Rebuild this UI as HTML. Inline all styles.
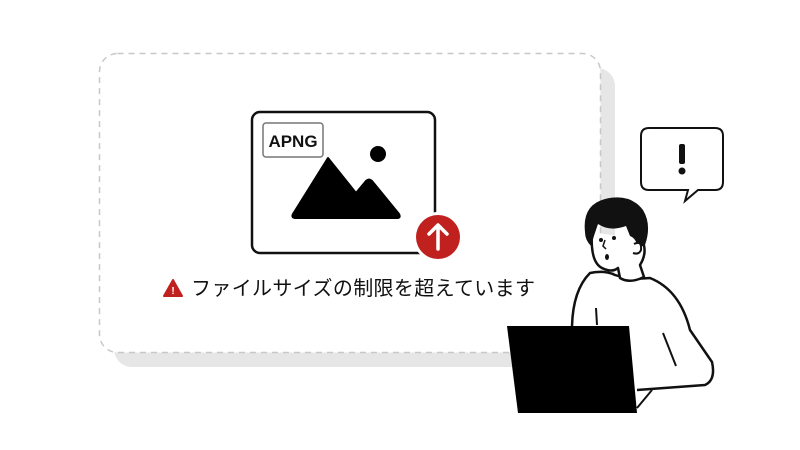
<!DOCTYPE html>
<html><head><meta charset="utf-8"><style>
html,body{margin:0;padding:0;background:#fff;width:800px;height:450px;overflow:hidden}
</style></head><body>
<svg width="800" height="450" viewBox="0 0 800 450" xmlns="http://www.w3.org/2000/svg">
<rect x="114" y="68" width="501" height="299" rx="18" fill="#e6e6e6"/>
<rect x="99.5" y="53.5" width="501" height="299" rx="18" fill="#fff" stroke="#c8c8c8" stroke-width="1.5" stroke-dasharray="6 5"/>
<rect x="252" y="112" width="183" height="141" rx="8" fill="none" stroke="#111" stroke-width="2.5"/>
<rect x="263" y="123" width="60" height="34" rx="3" fill="#fff" stroke="#777" stroke-width="1.5"/>
<text x="293" y="147" text-anchor="middle" font-family="Liberation Sans, sans-serif" font-weight="bold" font-size="17" fill="#111">APNG</text>
<circle cx="378" cy="154" r="8" fill="#000"/>
<path d="M328 158 L293 214 Q291 218 296 218 L397 218 Q401 218 399 214 L372 181 Q369 178 366 181 L356 193 Z" fill="#000" stroke="#000" stroke-width="2" stroke-linejoin="round"/>
<circle cx="438" cy="237" r="25" fill="#fff"/>
<circle cx="438" cy="237" r="22" fill="#c0211f"/>
<path d="M438 249 V226 M429 234 L438 225 L447 234" stroke="#fff" stroke-width="3.5" fill="none" stroke-linecap="round" stroke-linejoin="round"/>
<path d="M173 280 L182 296 L164 296 Z" fill="#c0211f" stroke="#c0211f" stroke-width="2" stroke-linejoin="round"/>
<text x="173" y="294" text-anchor="middle" font-family="Liberation Sans, sans-serif" font-weight="bold" font-size="10" fill="#fff">!</text>
<text x="191" y="295" font-family="Liberation Sans, 'Noto Sans CJK JP', sans-serif" font-size="20" fill="#111" textLength="344">ファイルサイズの制限を超えています</text>
<!-- bubble -->
<path d="M649 128 H715 Q723 128 723 136 V182 Q723 190 715 190 H698 L685 201 L688 190 H649 Q641 190 641 182 V136 Q641 128 649 128 Z" fill="#fff" stroke="#111" stroke-width="2"/>
<rect x="679" y="144" width="6" height="20" rx="2" fill="#111"/>
<circle cx="682" cy="171" r="3.5" fill="#111"/>
<!-- body -->
<path d="M572 326 Q573 290 590 273 Q605 270 615 275 Q630 280 650 278 Q680 290 690 330 L712 362 Q716 380 705 385 L637 390" fill="#fff" stroke="#111" stroke-width="2.5" stroke-linejoin="round"/>
<path d="M596 308 L597 325 M663 333 L676 366" stroke="#111" stroke-width="2" fill="none"/>
<!-- face -->
<path d="M592 232 Q590 262 602 268 Q612 273 618 268 L620 278 Q630 284 644 277 L640 265 Q648 252 642 240" fill="#fff" stroke="#111" stroke-width="2.5" stroke-linejoin="round"/>
<path d="M585 232 Q582 205 605 199 Q630 193 643 210 Q652 225 645 245 L638 248 Q636 238 630 236 L626 226 Q610 232 598 224 Q594 235 591 246 Q585 240 585 232 Z" fill="#111"/>
<path d="M634 244 Q642 240 641 250 Q639 255 633 253" fill="#fff" stroke="#111" stroke-width="2"/>
<circle cx="601" cy="240" r="2" fill="#111"/><circle cx="614" cy="238" r="2" fill="#111"/>
<path d="M605 240 L603 246 L606 249" stroke="#111" stroke-width="1.5" fill="none"/>
<ellipse cx="607" cy="257" rx="2" ry="3" fill="#111"/>
<!-- laptop -->
<path d="M507 326 H629 L637 413 H518 Z" fill="#000"/>
<path d="M637 408 L652 390" stroke="#111" stroke-width="2"/>
</svg>
</body></html>
